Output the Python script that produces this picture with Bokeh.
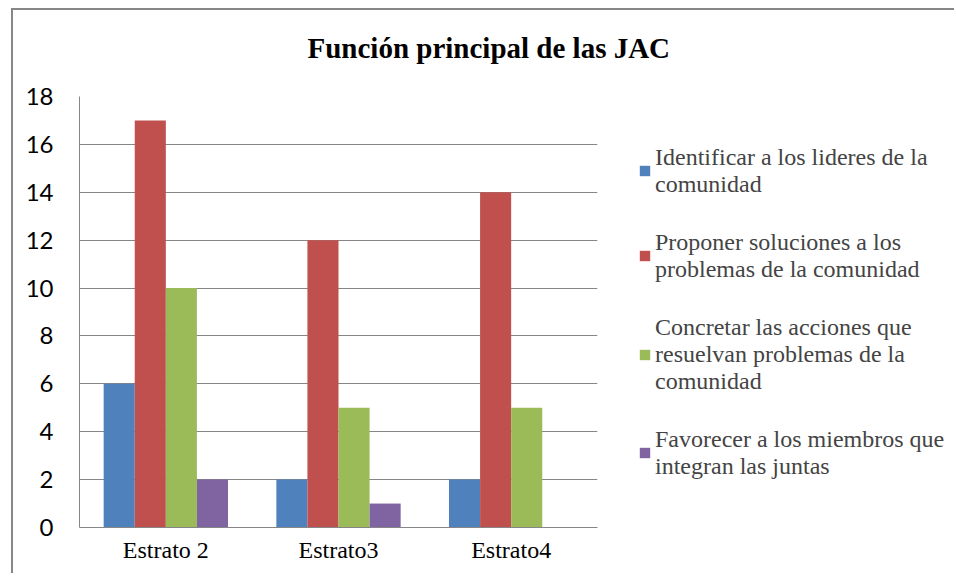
from bokeh.plotting import figure
from bokeh.models import Range1d, FixedTicker, Legend, LegendItem, ColumnDataSource
from bokeh.transform import dodge
from bokeh.embed import file_html
from bokeh.resources import INLINE

categories = ["Estrato 2", "Estrato3", "Estrato4"]
series_names = [
    "Identificar a los lideres de la\ncomunidad",
    "Proponer soluciones a los\nproblemas de la comunidad",
    "Concretar las acciones que\nresuelvan problemas de la\ncomunidad",
    "Favorecer a los miembros que\nintegran las juntas",
]
identificar = [6, 2, 2]
proponer = [17, 12, 14]
concretar = [10, 5, 5]
favorecer = [2, 1, 0]
y_ticks = [0, 2, 4, 6, 8, 10, 12, 14, 16, 18]
title_text = "Función principal de las JAC"

colors = ["#4F81BD", "#C0504D", "#9BBB59", "#8064A2"]
offsets = [-0.27, -0.09, 0.09, 0.27]

source = ColumnDataSource(data=dict(
    cat=categories, s0=identificar, s1=proponer, s2=concretar, s3=favorecer))

p = figure(x_range=categories, y_range=Range1d(0, 18),
           frame_width=518, frame_height=431,
           output_backend="svg", toolbar_location=None,
           min_border_left=66, min_border_top=86, min_border_bottom=46, min_border_right=300)

p.title.text = title_text
p.title.text_font = "Liberation Serif"
p.title.text_font_style = "bold"
p.title.text_font_size = "29px"
p.title.align = "left"
p.title.vertical_align = "top"
p.title.offset = 228
p.title.standoff = 40
p.title.padding = dict(left=0, right=0, top=0, bottom=11)
p.title.text_color = "#000000"

renderers = []
for i in range(4):
    r = p.vbar(x=dodge("cat", offsets[i], range=p.x_range), top="s%d" % i, width=0.18,
               source=source, fill_color=colors[i], line_color=None)
    renderers.append(r)

legend = Legend(items=[LegendItem(label=series_names[i], renderers=[renderers[i]]) for i in range(4)],
                location="center_left", orientation="vertical")
legend.label_text_font = "Liberation Serif"
legend.label_text_font_size = "24px"
legend.label_text_line_height = 1.2
legend.label_standoff = 4
legend.glyph_width = 13
legend.glyph_height = 13
legend.spacing = 31
legend.padding = 0
legend.margin = 41
legend.border_line_color = None
legend.background_fill_alpha = 0
p.add_layout(legend, "right")

p.outline_line_color = None
p.background_fill_color = "white"
p.border_fill_color = "white"

p.yaxis.ticker = FixedTicker(ticks=y_ticks)
p.yaxis.major_label_text_font = "Lato"
p.yaxis.major_label_text_font_size = "24px"
p.yaxis.major_label_text_color = "#000000"
p.yaxis.major_label_standoff = 26
p.yaxis.major_tick_out = 0
p.yaxis.major_tick_in = 0
p.yaxis.major_tick_line_color = None
p.yaxis.minor_tick_line_color = None
p.yaxis.axis_line_color = "#868686"

p.xaxis.major_label_text_font = "Liberation Serif"
p.xaxis.major_label_text_font_size = "24px"
p.xaxis.major_label_text_color = "#000000"
p.xaxis.major_label_standoff = 9
p.xaxis.major_tick_out = 0
p.xaxis.major_tick_in = 0
p.xaxis.major_tick_line_color = None
p.xaxis.axis_line_color = "#868686"

p.xgrid.grid_line_color = None
p.ygrid.grid_line_color = "#868686"
p.ygrid.grid_line_width = 1

p.styles = {"border-left": "2px solid #878787", "border-top": "2px solid #878787",
            "margin-left": "11px", "margin-top": "8px",
            "max-width": "943px", "max-height": "567px", "overflow": "hidden"}

open("out.html", "w").write(file_html(p, INLINE))
